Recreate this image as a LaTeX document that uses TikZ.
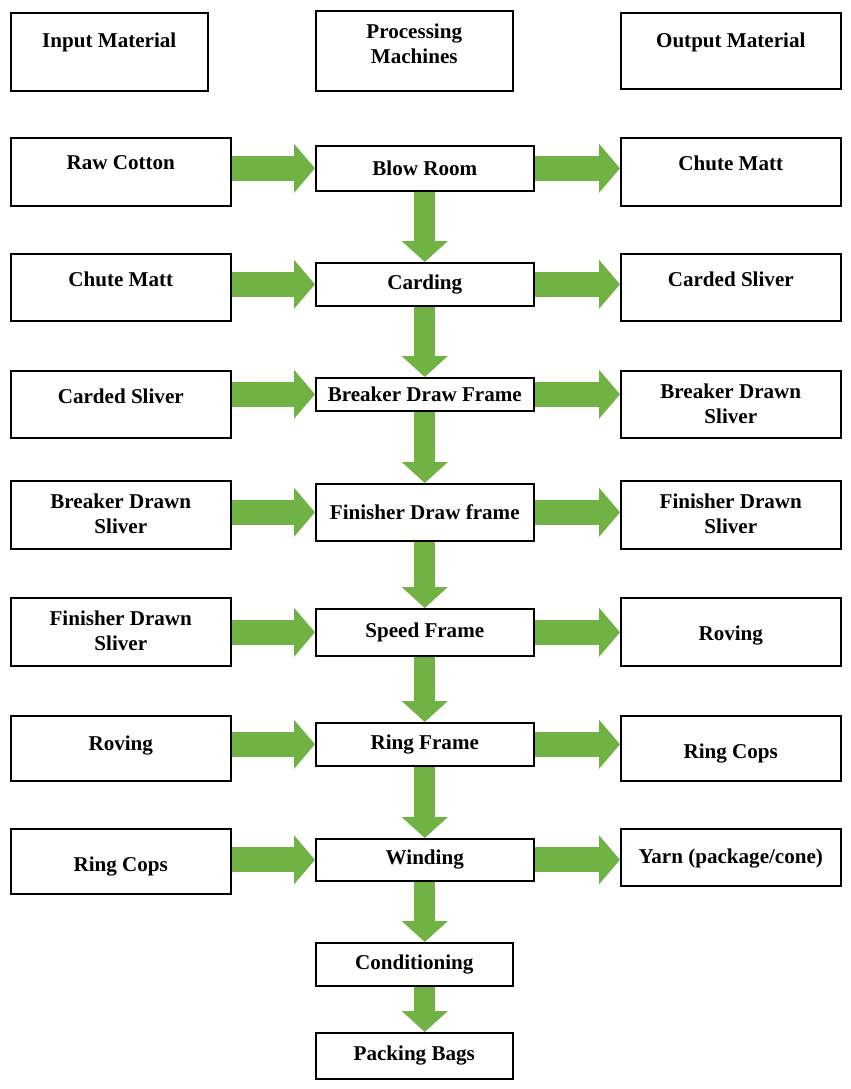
\documentclass[tikz,border=0pt]{standalone}
\usepackage{fontspec}
\setmainfont{Liberation Serif}
\usetikzlibrary{arrows.meta}
\definecolor{ag}{RGB}{112,178,68}
\begin{document}
\begin{tikzpicture}[x=0.02cm,y=-0.02cm,
  bx/.style={draw,line width=0.9pt,inner sep=0pt,anchor=north west,font=\fontsize{12}{14.5}\selectfont\bfseries,align=center},
  lab/.style={anchor=north,font=\fontsize{12}{14.5}\selectfont\bfseries,align=center},
  harr/.style={draw=ag,line width=0.5cm,-{Triangle[width=0.96cm,length=0.42cm]}},
  varr/.style={draw=ag,line width=0.42cm,-{Triangle[width=0.9cm,length=0.42cm]}}]
\useasboundingbox (0,0) rectangle (850,1089);
% headers
\node[bx,minimum width=3.94cm,minimum height=1.56cm] (hi) at (10,12) {};
\node[lab] at ([yshift=-0.3cm]hi.north) {Input Material};
\node[bx,minimum width=3.94cm,minimum height=1.6cm] (hp) at (315,10) {};
\node[lab] at ([yshift=-0.15cm]hp.north) {Processing\\Machines};
\node[bx,minimum width=4.4cm,minimum height=1.52cm] (ho) at (620,12) {};
\node[lab] at ([yshift=-0.3cm]ho.north) {Output Material};
% rows
\foreach \i/\ly/\lh/\cy/\ch/\lt/\ls/\ct/\rt/\rs/\rh in {
 1/137/68/145/45/{Raw Cotton}/0.25/{Blow Room}/{Chute Matt}/0.25/68,
 2/253/67/262/43/{Chute Matt}/0.25/{Carding}/{Carded Sliver}/0.25/67,
 3/370/67/377/33/{Carded Sliver}/0.25/{Breaker Draw Frame}/{Breaker Drawn\\Sliver}/0.15/67,
 4/480/68/483/57/{Breaker Drawn\\Sliver}/0.15/{Finisher Draw frame}/{Finisher Drawn\\Sliver}/0.15/68,
 5/597/68/608/47/{Finisher Drawn\\Sliver}/0.15/{Speed Frame}/{Roving}/0.45/68,
 6/715/65/722/43/{Roving}/0.3/{Ring Frame}/{Ring Cops}/0.45/65,
 7/828/65/838/42/{Ring Cops}/0.45/{Winding}/{Yarn (package/cone)}/0.3/57}{
  \node[bx,minimum width=4.4cm,minimum height=\lh*0.02cm] (L\i) at (10,\ly) {};
  \node[lab] at ([yshift=-\ls cm]L\i.north) {\lt};
  \node[bx,minimum width=4.36cm,minimum height=\ch*0.02cm] (C\i) at (315,\cy) {\ct};
  \node[bx,minimum width=4.4cm,minimum height=\rh*0.02cm] (R\i) at (620,\ly) {};
  \node[lab] at ([yshift=-\rs cm]R\i.north) {\rt};
  \draw[harr] (L\i.east |- C\i) -- (C\i.west);
  \draw[harr] (C\i.east) -- (R\i.west |- C\i);
}
\node[bx,minimum width=3.94cm,minimum height=0.86cm] (C8) at (315,942) {Conditioning};
\node[bx,minimum width=3.94cm,minimum height=0.92cm] (C9) at (315,1032) {Packing Bags};
\foreach \a/\b in {1/2,2/3,3/4,4/5,5/6,6/7,7/8,8/9}
  \draw[varr] (C1.center |- C\a.south) -- (C1.center |- C\b.north);
\end{tikzpicture}
\end{document}
